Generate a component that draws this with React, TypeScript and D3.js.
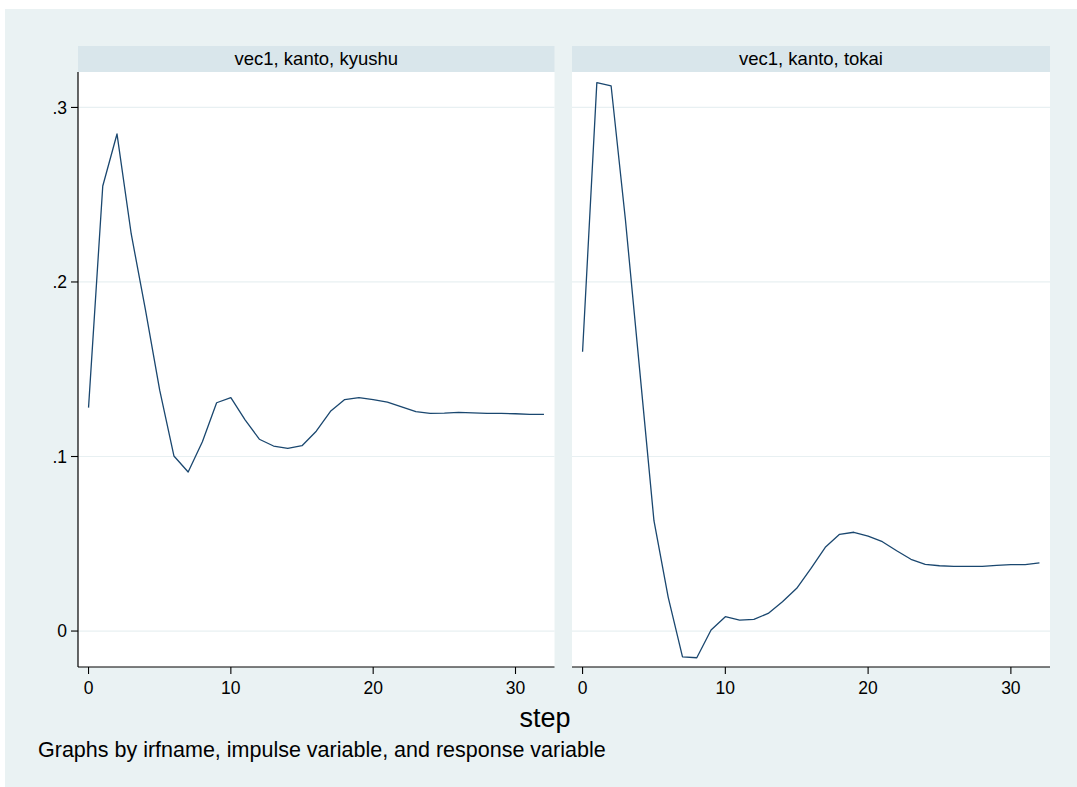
import React from "react";
import * as d3 from "d3";

const steps: number[] = Array.from({ length: 33 }, (_, i) => i);

const panelTitles: string[] = ["vec1, kanto, kyushu", "vec1, kanto, tokai"];

const kyushuValues: number[] = [
  0.128, 0.255, 0.2848, 0.2275, 0.184, 0.138, 0.1003, 0.0911, 0.1085, 0.1308,
  0.1337, 0.121, 0.1099, 0.106, 0.1047, 0.1062, 0.1145, 0.1259, 0.1326, 0.1337,
  0.1326, 0.1312, 0.1285, 0.1257, 0.1247, 0.1249, 0.1253, 0.125, 0.1247, 0.1247,
  0.1245, 0.1241, 0.1241,
];

const tokaiValues: number[] = [
  0.16, 0.3142, 0.3123, 0.2358, 0.1496, 0.0632, 0.0193, -0.0148, -0.0153, 0.0006,
  0.0082, 0.0063, 0.0067, 0.0101, 0.0168, 0.0245, 0.0359, 0.048, 0.0554, 0.0566,
  0.0544, 0.0512, 0.046, 0.0411, 0.0382, 0.0374, 0.037, 0.037, 0.037, 0.0376,
  0.038, 0.038, 0.039,
];

const yTicks: number[] = [0, 0.1, 0.2, 0.3];
const yTickLabels: string[] = ["0", ".1", ".2", ".3"];
const xTicks: number[] = [0, 10, 20, 30];

const xAxisTitle = "step";
const noteText = "Graphs by irfname, impulse variable, and response variable";

const W = 1077;
const H = 787;
const BG = "#EAF2F3";
const STRIP = "#D9E6EB";
const GRID = "#E8F0F2";
const LINE = "#1A476F";
const FONT = "'Liberation Sans', Arial, Helvetica, sans-serif";

const panels = [
  { title: panelTitles[0], values: kyushuValues, x0: 78, x1: 554.5, yAxis: true },
  { title: panelTitles[1], values: tokaiValues, x0: 572, x1: 1050, yAxis: false },
];

const plotTop = 72;
const plotBottom = 667;
const stripTop = 46;

export default function App() {
  const y = d3.scaleLinear().domain([-0.0206, 0.3203]).range([plotBottom, plotTop]);

  return (
    <div style={{ position: "absolute", left: 0, top: 0 }}>
      <svg width={W} height={H} style={{ display: "block" }}>
        <rect x={0} y={0} width={W} height={H} fill="#ffffff" />
        <rect x={5} y={9} width={W - 5} height={H - 9} fill={BG} />
        {panels.map((p, pi) => {
          const x = d3.scaleLinear().domain([-0.74, 32.74]).range([p.x0, p.x1]);
          const line = d3
            .line<number>()
            .x((_, i) => x(steps[i]))
            .y((d) => y(d));
          return (
            <g key={pi}>
              <rect x={p.x0} y={stripTop} width={p.x1 - p.x0} height={plotTop - stripTop} fill={STRIP} />
              <text
                x={(p.x0 + p.x1) / 2}
                y={65}
                textAnchor="middle"
                fontFamily={FONT}
                fontSize={18.5}
                fill="#000"
              >
                {p.title}
              </text>
              <rect x={p.x0} y={plotTop} width={p.x1 - p.x0} height={plotBottom - plotTop} fill="#ffffff" />
              {yTicks.map((t) => (
                <line
                  key={"g" + t}
                  x1={p.x0}
                  x2={p.x1}
                  y1={y(t)}
                  y2={y(t)}
                  stroke={GRID}
                  strokeWidth={1.2}
                />
              ))}
              <path d={line(p.values) || ""} fill="none" stroke={LINE} strokeWidth={1.3} strokeLinejoin="round" />
              <line x1={p.x0} x2={p.x1} y1={plotBottom} y2={plotBottom} stroke="#000" strokeWidth={1.2} />
              {xTicks.map((t) => (
                <g key={"x" + t}>
                  <line x1={x(t)} x2={x(t)} y1={plotBottom} y2={plotBottom + 7} stroke="#000" strokeWidth={1.1} />
                  <text
                    x={x(t)}
                    y={693.5}
                    textAnchor="middle"
                    fontFamily={FONT}
                    fontSize={17.5}
                    fill="#000"
                  >
                    {t}
                  </text>
                </g>
              ))}
              {p.yAxis && (
                <g>
                  <line x1={p.x0} x2={p.x0} y1={plotTop} y2={plotBottom} stroke="#000" strokeWidth={1.2} />
                  {yTicks.map((t, i) => (
                    <g key={"y" + t}>
                      <line x1={p.x0 - 7} x2={p.x0} y1={y(t)} y2={y(t)} stroke="#000" strokeWidth={1.1} />
                      <text
                        x={p.x0 - 11}
                        y={y(t) + 6.3}
                        textAnchor="end"
                        fontFamily={FONT}
                        fontSize={17.5}
                        fill="#000"
                      >
                        {yTickLabels[i]}
                      </text>
                    </g>
                  ))}
                </g>
              )}
            </g>
          );
        })}
        <text x={545} y={727} textAnchor="middle" fontFamily={FONT} fontSize={27} fill="#000">
          {xAxisTitle}
        </text>
        <text x={38} y={756.5} textAnchor="start" fontFamily={FONT} fontSize={21.5} fill="#000">
          {noteText}
        </text>
      </svg>
    </div>
  );
}
